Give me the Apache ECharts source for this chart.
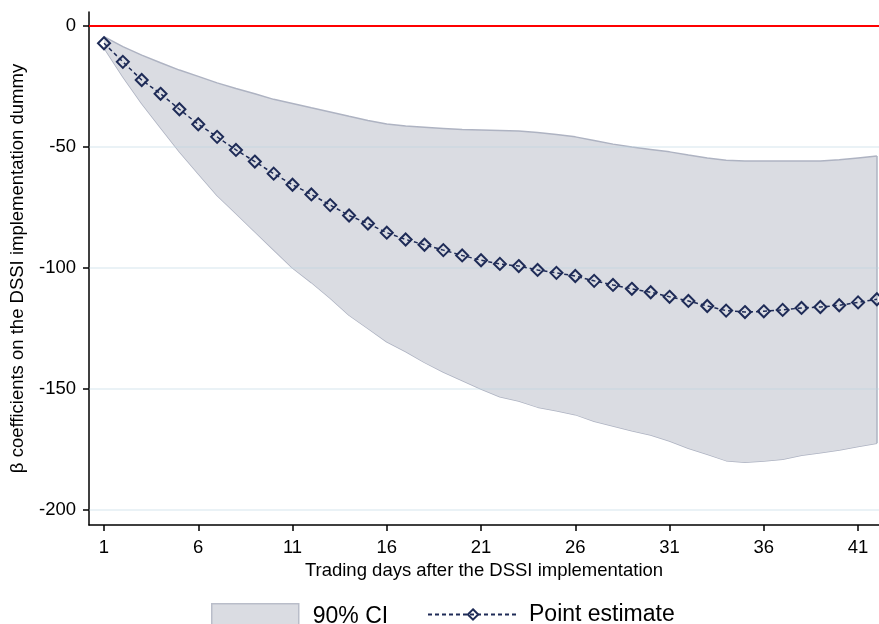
<!DOCTYPE html>
<html>
<head>
<meta charset="utf-8">
<script src="https://cdn.jsdelivr.net/npm/echarts@6/dist/echarts.min.js"></script>
<style>html,body{margin:0;padding:0;background:#fff}#c{width:879px;height:624px}</style>
</head>
<body>
<div id="c"></div>
<script>
const days = [1,2,3,4,5,6,7,8,9,10,11,12,13,14,15,16,17,18,19,20,21,22,23,24,25,26,27,28,29,30,31,32,33,34,35,36,37,38,39,40,41,42];
const pointEstimate = [-7.1,-14.8,-22.3,-28.0,-34.4,-40.6,-45.8,-51.2,-56.0,-61.0,-65.6,-69.6,-74.0,-78.3,-81.6,-85.4,-88.2,-90.4,-92.6,-94.8,-96.8,-98.3,-99.2,-100.8,-102.0,-103.3,-105.3,-107.0,-108.6,-110.0,-111.9,-113.6,-115.7,-117.6,-118.2,-117.9,-117.3,-116.5,-116.1,-115.4,-114.2,-112.9];
const ciUpper = [-4.4,-8.5,-12.0,-15.2,-18.2,-20.8,-23.5,-25.8,-28.0,-30.3,-32.0,-33.8,-35.5,-37.3,-39.0,-40.5,-41.3,-41.8,-42.3,-42.8,-43.0,-43.2,-43.4,-44.0,-44.8,-45.8,-47.3,-48.8,-50.0,-51.0,-52.0,-53.3,-54.5,-55.5,-55.8,-55.8,-55.8,-55.8,-55.8,-55.3,-54.5,-53.7];
const ciLower = [-9,-21,-32,-42,-52,-61,-70,-77.5,-85,-92.5,-100,-106,-112.5,-119.5,-125,-130.5,-134.5,-139,-143,-146.5,-150,-153.2,-155,-157.5,-159,-160.6,-163.3,-165.3,-167.3,-169,-171.5,-174.5,-177,-179.6,-180.3,-179.8,-179,-177.4,-176.3,-175.2,-173.8,-172.4];
const xTicks = [1,6,11,16,21,26,31,36,41];
const yTicks = [-200,-150,-100,-50,0];
const gridValues = [-200,-150,-100,-50];

const FONT = '"Liberation Sans", Arial, sans-serif';
const bandFill = '#dadce2';
const bandEdge = '#aeb3c2';
const navy = '#1e2b57';

// value first so that the stack is applied on the y value (encode maps it back)
const lowerData = days.map((d,i)=>[ciLower[i], d]);
const widthData = days.map((d,i)=>[ciUpper[i]-ciLower[i], d]);
const pointData = days.map((d,i)=>[d, pointEstimate[i]]);
const lastDay = days[days.length-1];

const chart = echarts.init(document.getElementById('c'), null, {renderer:'canvas'});
chart.setOption({
  animation: false,
  backgroundColor: '#fff',
  textStyle: {fontFamily: FONT},
  grid: {left: 89, right: 0, top: 12, bottom: 99, containLabel: false},
  xAxis: {
    type: 'value', min: 0.204, max: 42.11,
    name: 'Trading days after the DSSI implementation',
    nameLocation: 'middle', nameGap: 35,
    nameTextStyle: {fontSize: 18.5, color: '#000', fontFamily: FONT},
    axisLine: {show: true, onZero: false, lineStyle: {color: '#000', width: 1.5}},
    axisTick: {show: true, length: 6, lineStyle: {color: '#000', width: 1.5}, customValues: xTicks},
    axisLabel: {fontSize: 18.5, color: '#000', margin: 13, fontFamily: FONT, customValues: xTicks},
    splitLine: {show: false}
  },
  yAxis: {
    type: 'value', min: -206.2, max: 5.8,
    name: 'β coefficients on the DSSI implementation dummy',
    nameLocation: 'middle', nameGap: 62, nameRotate: 90,
    nameTextStyle: {fontSize: 18.5, color: '#000', fontFamily: FONT},
    axisLine: {show: true, onZero: false, lineStyle: {color: '#000', width: 1.5}},
    axisTick: {show: true, length: 6, lineStyle: {color: '#000', width: 1.5}, customValues: yTicks},
    axisLabel: {fontSize: 18.5, color: '#000', margin: 13, fontFamily: FONT, customValues: yTicks},
    splitLine: {show: false}
  },
  legend: [
    {
      data: [{name: '90% CI', icon: 'rect', itemStyle: {color: bandFill, borderColor: '#b9bdc9', borderWidth: 1.5}}],
      left: 206, top: 598, itemWidth: 87, itemHeight: 26, selectedMode: false,
      textStyle: {fontSize: 23, color: '#000', fontFamily: FONT, padding: [0,0,0,9]}
    },
    {
      data: ['Point estimate'],
      left: 422, top: 598, itemWidth: 90, itemHeight: 13, selectedMode: false,
      textStyle: {fontSize: 23, color: '#000', fontFamily: FONT, padding: [0,0,0,6]}
    }
  ],
  series: [
    {
      name: 'ciLowerBase', type: 'line', stack: 'ci', stackStrategy: 'all',
      data: lowerData, encode: {x: 1, y: 0}, symbol: 'none', silent: true,
      lineStyle: {color: bandEdge, width: 1.5}, z: 1
    },
    {
      name: '90% CI', type: 'line', stack: 'ci', stackStrategy: 'all',
      data: widthData, encode: {x: 1, y: 0}, symbol: 'none', silent: true,
      lineStyle: {color: bandEdge, width: 1.5},
      itemStyle: {color: bandFill},
      areaStyle: {color: bandFill, opacity: 1}, z: 2,
      markLine: {
        silent: true, symbol: 'none', label: {show: false},
        lineStyle: {color: bandEdge, width: 1.5, type: 'solid'},
        data: [[{coord: [lastDay, ciLower[ciLower.length-1]]}, {coord: [lastDay, ciUpper[ciUpper.length-1]]}]]
      }
    },
    {
      name: 'gridOverlay', type: 'line', data: [], silent: true, z: 3,
      markLine: {
        silent: true, symbol: 'none', label: {show: false},
        lineStyle: {color: 'rgba(185,212,224,0.4)', width: 1.5, type: 'solid'},
        data: gridValues.map(v => ({yAxis: v}))
      }
    },
    {
      name: 'Point estimate', type: 'line', data: pointData,
      symbol: 'diamond', symbolSize: 12,
      lineStyle: {color: navy, width: 1.5, type: [4, 3]},
      itemStyle: {color: 'rgba(255,255,255,0)', borderColor: navy, borderWidth: 2},
      z: 5,
      markLine: {
        silent: true, symbol: 'none', label: {show: false},
        lineStyle: {color: '#ff0000', width: 2, type: 'solid'},
        data: [{yAxis: 0}]
      }
    }
  ]
});
</script>
</body>
</html>
